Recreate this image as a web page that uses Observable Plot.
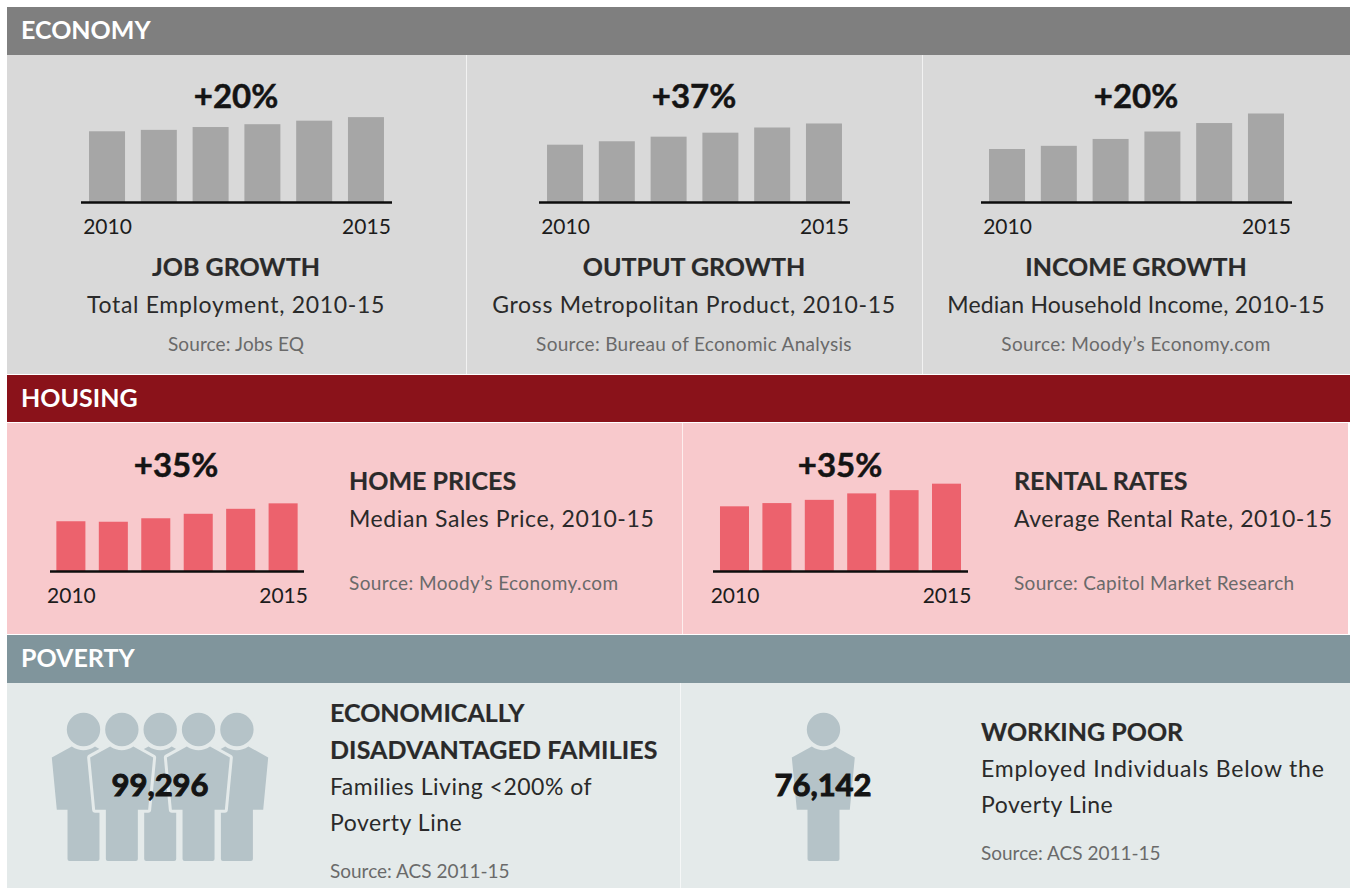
<!DOCTYPE html>
<html><head><meta charset="utf-8">
<script src="https://cdn.jsdelivr.net/npm/d3@7"></script>
<script src="https://cdn.jsdelivr.net/npm/@observablehq/plot@0.6"></script>
<style>
html,body{margin:0;padding:0;background:#fff;}
#page{position:relative;width:1351px;height:888px;overflow:hidden;font-family:Lato,"Open Sans",sans-serif;}
.box{position:absolute;}
.t{position:absolute;white-space:nowrap;line-height:1.2;}
.p{position:absolute;}
</style></head><body><div id="page"></div>
<script>
// ---- data ----
const years = ["2010","2011","2012","2013","2014","2015"];
const jobGrowth = [100,102,106,110,115,120];
const outputGrowth = [100,106,114,121,130,137];
const incomeGrowth = [100,106,119,133,149,167];
const homePrices = [100,99,106,115,125,136];
const rentalRates = [100,105,110,120,125,135];
const sections = ["ECONOMY","HOUSING","POVERTY"];
const economyChanges = ["+20%","+37%","+20%"];
const economyTitles = ["JOB GROWTH","OUTPUT GROWTH","INCOME GROWTH"];
const economySubs = ["Total Employment, 2010-15","Gross Metropolitan Product, 2010-15","Median Household Income, 2010-15"];
const economySources = ["Source: Jobs EQ","Source: Bureau of Economic Analysis","Source: Moody\u2019s Economy.com"];
const housingChanges = ["+35%","+35%"];
const housingTitles = ["HOME PRICES","RENTAL RATES"];
const housingSubs = ["Median Sales Price, 2010-15","Average Rental Rate, 2010-15"];
const housingSources = ["Source: Moody\u2019s Economy.com","Source: Capitol Market Research"];
const familyCount = "99,296";
const workingPoorCount = "76,142";
const familySlots = [0,2,4,1,3];   // drawn back row first
const workingSlots = [0];

// ---- colours ----
const INK="#2a2a2a", BLACK="#141414", SRC="#6a6a6a";
const page=document.getElementById("page");
function box(x,y,w,h,c){const d=document.createElement("div");d.className="box";d.style.cssText=`left:${x}px;top:${y}px;width:${w}px;height:${h}px;background:${c}`;page.append(d);}
function label(s,x,y,size,opts={}){const d=document.createElement("div");d.className="t";d.textContent=s;
  const tx=opts.center?"-50%":"0";
  d.style.cssText=`left:${x}px;top:${y}px;font-size:${size}px;font-weight:${opts.bold?700:400};color:${opts.color||INK};transform:translate(${tx},-50%);letter-spacing:${opts.ls||0}px;-webkit-text-stroke:${opts.stroke||0}px ${opts.color||INK}`;
  page.append(d);}
const SUB=23, SOURCE=19;

// section backgrounds
box(7,7,1343,48,"#7f7f7f"); box(7,55,1343,319,"#d9d9d9");
box(466,55,1,319,"#f2f2f2"); box(922,55,1,319,"#f2f2f2");
box(7,375,1343,47,"#8a121a"); box(7,423,1341,211,"#f8c9cc");
box(682,423,1,211,"#fdeeee");
box(7,635,1343,48,"#80959c"); box(7,683,1343,205,"#e4eaea");
box(680,683,1,205,"#f5f7f7");

label(sections[0],21,29,25,{bold:true,color:"#fff"});
label(sections[1],21,397,25,{bold:true,color:"#fff"});
label(sections[2],21,657,25,{bold:true,color:"#fff"});

function bars(values,{left,width,top,yMax,fill,padIn,padOut}){
  const data=years.map((year,i)=>({year,value:values[i]}));
  const svg=Plot.plot({
    width:width+20,height:140,marginLeft:10,marginRight:10,marginTop:0,marginBottom:40,
    style:{background:"transparent",fontFamily:"Lato",color:"#1c1c1c"},
    x:{domain:years,paddingInner:padIn,paddingOuter:padOut,round:false,label:null,axis:null},
    y:{domain:[0,yMax],axis:null},
    marks:[
      Plot.barY(data,{x:"year",y:"value",fill}),
      Plot.ruleY([0],{stroke:"#0d0d0d",strokeWidth:2.4}),
      Plot.axisX({ticks:["2010","2015"],tickSize:0,tickPadding:17,fontSize:21,label:null})
    ]
  });
  svg.classList.add("p");
  svg.style.left=(left-10)+"px"; svg.style.top=top+"px";
  page.append(svg);
}

const GR="#a6a6a6", RD="#ec626d";
bars(jobGrowth,{left:81,width:311,top:102,yMax:141.4,fill:GR,padIn:.305,padOut:.155});
bars(outputGrowth,{left:539,width:311,top:102,yMax:174.5,fill:GR,padIn:.305,padOut:.155});
bars(incomeGrowth,{left:981,width:311,top:102,yMax:188.7,fill:GR,padIn:.305,padOut:.155});
bars(homePrices,{left:50,width:254,top:471,yMax:201,fill:RD,padIn:.316,padOut:.15});
bars(rentalRates,{left:713,width:255,top:471,yMax:154.6,fill:RD,padIn:.316,padOut:.165});

// economy text
const econSubLs=[.68,.67,.22], econSrcLs=[.13,.29,.4];
[236,694,1136].forEach((cx,i)=>{
  label(economyChanges[i],cx,96,33,{bold:true,center:true,color:BLACK,stroke:.5});
  label(economyTitles[i],cx,266,25,{bold:true,center:true,stroke:.2});
  label(economySubs[i],cx,305,SUB,{center:true,ls:econSubLs[i]});
  label(economySources[i],cx,344,SOURCE,{center:true,color:SRC,ls:econSrcLs[i]});
});
// housing text
const houseSubLs=[.61,.57], houseSrcLs=[.4,.32];
[[176,349],[840,1014]].forEach(([cx,lx],i)=>{
  label(housingChanges[i],cx,465,33,{bold:true,center:true,color:BLACK,stroke:.5});
  label(housingTitles[i],lx,480,25,{bold:true,stroke:.2});
  label(housingSubs[i],lx,519,SUB,{ls:houseSubLs[i]});
  label(housingSources[i],lx,583,SOURCE,{color:SRC,ls:houseSrcLs[i]});
});

// poverty pictograms: a person glyph as a custom dot symbol, head centred on the origin
const person={draw(c){
  c.moveTo(16.7,0);c.arc(0,0,16.7,0,2*Math.PI);c.closePath();
  c.moveTo(-11.7,17);
  c.quadraticCurveTo(0,24.5,11.5,17);
  c.lineTo(31.3,28);c.lineTo(26.3,80.3);c.lineTo(16,80.3);
  c.lineTo(16,129.5);c.arcTo(16,131.5,14,131.5,2);c.lineTo(-14,131.5);c.arcTo(-16,131.5,-16,129.5,2);
  c.lineTo(-16,80.3);c.lineTo(-26.7,80.3);c.lineTo(-31.7,28);c.closePath();
}};
function people(slots,{left,width,step}){
  const svg=Plot.plot({
    width,height:205,margin:0,
    style:{background:"transparent",overflow:"visible"},
    x:{domain:[0,width/step],range:[0,width],axis:null},
    marks:[Plot.dot(slots,{x:d=>d,frameAnchor:"top",dy:46,r:1,symbol:person,fill:"#b5c3c8",
      stroke:"#e4eaea",strokeWidth:6,strokeLinejoin:"round",paintOrder:"stroke"})]
  });
  svg.classList.add("p");svg.style.left=left+"px";svg.style.top="683px";page.append(svg);
}
people(familySlots,{left:83.3,width:200,step:38.35});
people(workingSlots,{left:822.7,width:100,step:38.35});
label(familyCount,160,785,31,{bold:true,center:true,color:BLACK,stroke:1});
label(workingPoorCount,823,785,31,{bold:true,center:true,color:BLACK,stroke:1});

label("ECONOMICALLY",330,712,25,{bold:true,stroke:.2});
label("DISADVANTAGED FAMILIES",330,749,25,{bold:true,stroke:.2,ls:.1});
label("Families Living <200% of",330,787,SUB,{ls:.5});
label("Poverty Line",330,823,SUB,{ls:.55});
label("Source: ACS 2011-15",330,871,SOURCE,{color:SRC});
label("WORKING POOR",981,731,25,{bold:true,stroke:.2});
label("Employed Individuals Below the",981,769,SUB,{ls:.77});
label("Poverty Line",981,805,SUB,{ls:.55});
label("Source: ACS 2011-15",981,853,SOURCE,{color:SRC});
</script></body></html>
